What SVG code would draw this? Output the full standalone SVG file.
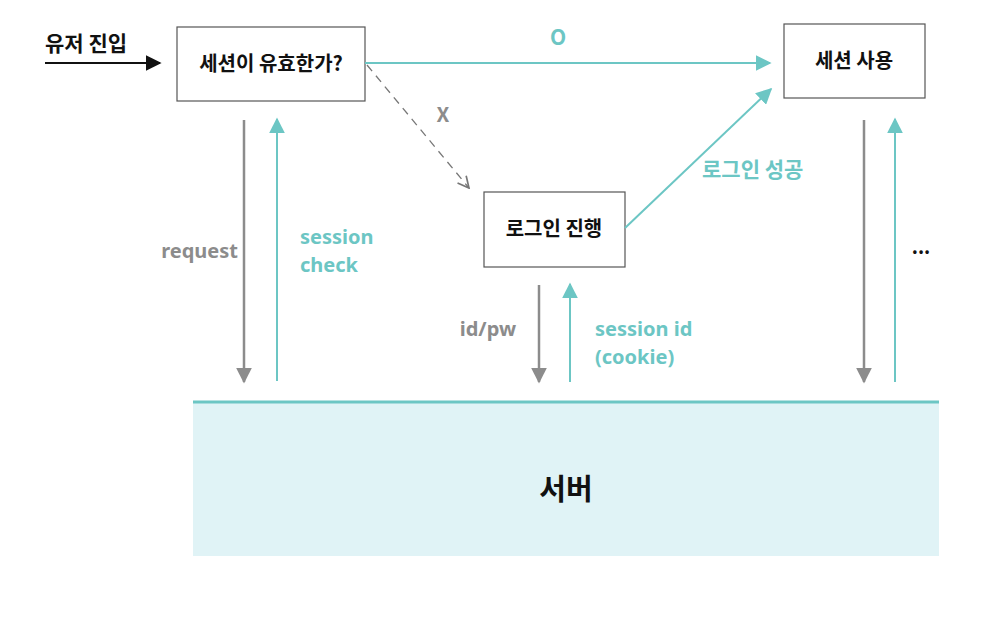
<svg xmlns="http://www.w3.org/2000/svg" width="981" height="630" viewBox="0 0 981 630">
<style>
text{font-family:"Noto Sans CJK KR","Noto Sans",sans-serif;font-weight:bold}
.lat{font-family:"Noto Sans",sans-serif}
.box{fill:#fff;stroke:#555;stroke-width:1.2}
.bt{font-size:20px;fill:#111;text-anchor:middle}
.teal{stroke:#6cc6c4;stroke-width:2;fill:none}
.gray{stroke:#8c8c8c;stroke-width:2.5;fill:none}
.tl{fill:#6cc6c4;font-size:21px}
.gl{fill:#8c8c8c;font-size:20.5px}
.sm{font-size:20px}
</style>
<defs>
<marker id="hb" viewBox="0 0 10 10" refX="9" refY="5" markerWidth="16" markerHeight="16" markerUnits="userSpaceOnUse" orient="auto"><path d="M0,0L10,5L0,10z" fill="#111"/></marker>
<marker id="ht" viewBox="0 0 10 10" refX="9" refY="5" markerWidth="16" markerHeight="16" markerUnits="userSpaceOnUse" orient="auto"><path d="M0,0L10,5L0,10z" fill="#6cc6c4"/></marker>
<marker id="hg" viewBox="0 0 10 10" refX="9" refY="5" markerWidth="16" markerHeight="16" markerUnits="userSpaceOnUse" orient="auto"><path d="M0,0L10,5L0,10z" fill="#8c8c8c"/></marker>
<marker id="ho" viewBox="0 0 10 10" refX="9" refY="5" markerWidth="14" markerHeight="14" markerUnits="userSpaceOnUse" orient="auto"><path d="M1,1L9,5L1,9" fill="none" stroke="#777" stroke-width="1.2"/></marker>
</defs>

<g id="server">
<rect x="193" y="402" width="746" height="154" fill="#e0f3f6"/>
<line x1="193" y1="402" x2="939" y2="402" stroke="#6cc6c4" stroke-width="3"/>
<text x="566" y="500" font-size="29" fill="#111" text-anchor="middle">서버</text>
</g>

<g id="entry">
<text x="45" y="51" font-size="21" fill="#111">유저 진입</text>
</g>

<g id="check">
<rect class="box" x="177" y="27" width="188" height="74"/>
<text class="bt" x="271" y="71">세션이 유효한가?</text>
</g>

<g id="use">
<rect class="box" x="784" y="24" width="141" height="74"/>
<text class="bt" x="854" y="68">세션 사용</text>
</g>

<g id="login">
<rect class="box" x="484" y="192" width="141" height="75"/>
<text class="bt" x="554" y="236">로그인 진행</text>
</g>

<g id="connectors">
<line x1="45" y1="63" x2="160" y2="63" stroke="#111" stroke-width="2" marker-end="url(#hb)"/>
<line class="teal" x1="365" y1="63" x2="770" y2="63" marker-end="url(#ht)"/>
<text class="tl" x="558" y="45" text-anchor="middle">O</text>
<line x1="367" y1="65" x2="469" y2="188" stroke="#777" stroke-width="1.3" stroke-dasharray="8,6" marker-end="url(#ho)"/>
<text class="gl" x="443" y="122" text-anchor="middle">X</text>
<line class="teal" x1="625" y1="228" x2="771" y2="89" marker-end="url(#ht)"/>
<text class="tl" x="702" y="177">로그인 성공</text>

<line class="gray" x1="244" y1="120" x2="244" y2="382" marker-end="url(#hg)"/>
<line class="teal" x1="277" y1="381" x2="277" y2="119" marker-end="url(#ht)"/>
<text class="gl lat sm" x="238" y="258" text-anchor="end">request</text>
<text class="tl lat sm" x="300" y="244">session</text>
<text class="tl lat sm" x="300" y="272">check</text>

<line class="gray" x1="539" y1="285" x2="539" y2="382" marker-end="url(#hg)"/>
<line class="teal" x1="570" y1="382" x2="570" y2="284" marker-end="url(#ht)"/>
<text class="gl lat sm" x="516" y="336" text-anchor="end">id/pw</text>
<text class="tl lat sm" x="595" y="336">session id</text>
<text class="tl lat sm" x="595" y="364">(cookie)</text>

<line class="gray" x1="864" y1="120" x2="864" y2="382" marker-end="url(#hg)"/>
<line class="teal" x1="895" y1="382" x2="895" y2="119" marker-end="url(#ht)"/>
<text x="921" y="254" font-size="19" fill="#111" text-anchor="middle">...</text>
</g>
</svg>
